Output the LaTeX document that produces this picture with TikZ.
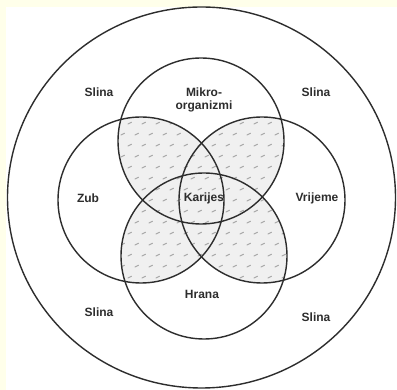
\documentclass[tikz,border=0pt]{standalone}
\usepackage{fontspec}
\setmainfont{Liberation Sans}
\usepackage{tikz}
\definecolor{paperYellow}{RGB}{255,255,234}
\definecolor{ringInk}{RGB}{45,45,45}
\definecolor{spotBack}{RGB}{240,240,240}
\definecolor{spotInk}{RGB}{168,168,168}
\tikzset{
  ring/.style={draw=ringInk, line width=1.4pt},
  lbl/.style={font=\fontsize{12}{13.5}\selectfont\bfseries, text=ringInk, align=center, inner sep=1pt},
  spot/.style={draw=spotInk, line width=1pt, line cap=round}
}
% one shaded lens: inside both circles
\newcommand\spotlens[2]{%
  \begin{scope}
    \clip #1 circle[radius=83];
    \clip #2 circle[radius=83];
    \fill[spotBack] (100,80) rectangle (310,320);
    \foreach \j in {0,...,22} {
      \foreach \i in {0,...,16} {
        \pgfmathsetmacro\px{100+14*\i+7*mod(\j,2)}
        \pgfmathsetmacro\py{80+11*\j}
        \draw[spot] (\px,\py) -- ++(3.5,-1.8);
      }
    }
  \end{scope}}

\begin{document}
\begin{tikzpicture}[x=1pt, y=-1pt]
  \useasboundingbox (0,0) rectangle (397,390);
  \fill[paperYellow] (0,0) rectangle (397,390);
  \fill[white] (6,7) rectangle (397,390);

  \coordinate (mik) at (201,141);
  \coordinate (zub) at (141,200);
  \coordinate (vri) at (262,200);
  \coordinate (hra) at (204,256);

  % shaded overlaps
  \spotlens{(mik)}{(zub)}
  \spotlens{(mik)}{(vri)}
  \spotlens{(hra)}{(zub)}
  \spotlens{(hra)}{(vri)}
  \spotlens{(mik)}{(hra)}

  % circles
  \draw[ring] (201.5,197.5) ellipse[x radius=194, y radius=190.5];
  \draw[ring] (mik) circle[radius=83];
  \draw[ring] (zub) circle[radius=83];
  \draw[ring] (vri) circle[radius=83];
  \draw[ring] (hra) circle[radius=83];

  % labels
  \node[lbl] (slinaTL) at (99,92) {Slina};
  \node[lbl] (slinaTR) at (316,92) {Slina};
  \node[lbl] (slinaBL) at (99,312) {Slina};
  \node[lbl] (slinaBR) at (316,317) {Slina};
  \node[lbl] (mikro) at (204,100) {Mikro-\\organizmi};
  \node[lbl] (zubLbl) at (88,198) {Zub};
  \node[lbl] (vrijeme) at (317,198) {Vrijeme};
  \node[lbl] (hrana) at (202,294) {Hrana};
  \node[lbl] (karijes) at (204,198) {Karijes};
\end{tikzpicture}
\end{document}
